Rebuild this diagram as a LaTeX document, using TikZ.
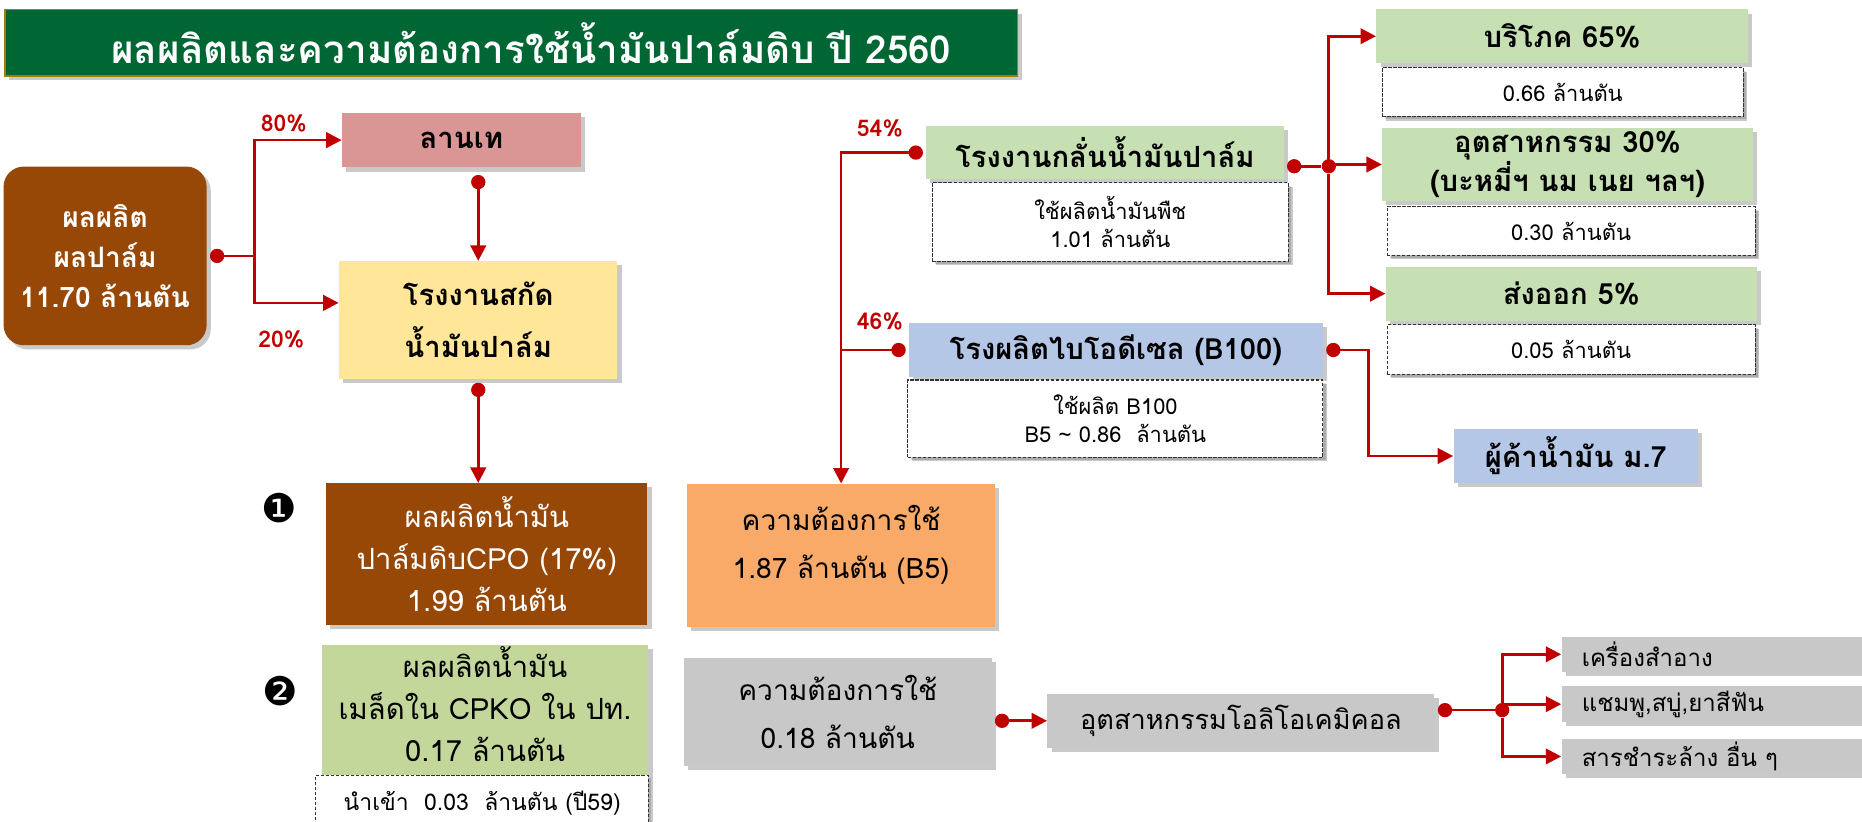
\documentclass[tikz,border=0pt]{standalone}
\usepackage{fontspec}
\setmainfont[Script=Thai]{Loma}
\newfontfamily\dingfont{DejaVu Sans}
\usepackage{xcolor}
\definecolor{ttlgreen}{RGB}{0,102,51}
\definecolor{ttlgold}{RGB}{166,124,0}
\definecolor{palm}{RGB}{151,71,6}
\definecolor{pink}{RGB}{217,150,148}
\definecolor{cream}{RGB}{255,230,153}
\definecolor{leaf}{RGB}{198,224,180}
\definecolor{olive}{RGB}{196,215,155}
\definecolor{peach}{RGB}{249,170,104}
\definecolor{sky}{RGB}{180,199,231}
\definecolor{ash}{RGB}{200,200,200}
\definecolor{flow}{RGB}{192,0,0}
\usepackage{tikz}
\usetikzlibrary{arrows.meta, shadows}
\tikzstyle{box} = [
    rectangle, align=center,
    inner sep=0pt,
    drop shadow={shadow xshift=0.07cm, shadow yshift=-0.07cm, opacity=0.3, fill=black!70},
]
\tikzstyle{bold} = [
    font=\bfseries\fontsize{14}{17}\selectfont,
]
\tikzstyle{plain} = [
    font=\fontsize{14}{20}\selectfont,
]
\tikzstyle{banner} = [
    box,
    minimum width=17.06cm,
    minimum height=1.12cm,
    fill=ttlgreen,
    draw=ttlgold,
    line width=0.8pt,
    text=white,
    font=\bfseries\fontsize{18.5}{22}\selectfont,
]
\tikzstyle{harvest} = [
    box, bold,
    minimum width=3.42cm,
    minimum height=3.01cm,
    rounded corners=0.34cm,
    fill=palm,
    text=white,
    font=\bfseries\fontsize{13.5}{19}\selectfont,
]
\tikzstyle{greenbox} = [
    box, bold,
    fill=leaf,
    minimum height=0.9cm,
]
\tikzstyle{bluebox} = [
    box, bold,
    fill=sky,
    minimum height=0.91cm,
]
\tikzstyle{note} = [
    box,
    fill=white,
    draw=black!80,
    dash pattern=on 1.6pt off 0.8pt,
    line width=0.5pt,
    font=\fontsize{10.5}{13.5}\selectfont,
    drop shadow={shadow xshift=0.05cm, shadow yshift=-0.05cm, opacity=0.15, fill=black},
]
\tikzstyle{greybox} = [
    box, plain,
    fill=ash,
]
\tikzstyle{listbox} = [
    box,
    fill=ash,
    minimum height=0.6cm,
    inner xsep=0.34cm,
    text width=4.82cm,
    align=left,
    font=\fontsize{11.5}{14}\selectfont,
]
\tikzstyle{share} = [
    text=flow,
    font=\bfseries\fontsize{11}{13}\selectfont,
]
\tikzstyle{junction} = [
    circle, fill=flow,
    minimum size=0.24cm,
    inner sep=0pt,
]
\tikzstyle{arrow} = [
    ->, >={Triangle[length=0.26cm, width=0.26cm]},
    draw=flow,
    line width=1.3pt,
]
\tikzstyle{dotline} = [arrow, {Circle[length=0.24cm]}-, shorten <=0.05cm]
\tikzstyle{dotarrow} = [arrow, {Circle[length=0.24cm]}->, shorten <=0.05cm]

\begin{document}
\begin{tikzpicture}[x=0.02cm, y=-0.02cm]
    \clip (0,0) rectangle (1568,692);
    % boxes
    \node (title) at (430.5,36) [banner] {\hspace*{0.68cm}ผลผลิตและความต้องการใช้น้ำมันปาล์มดิบ ปี 2560};
    \node (farm) at (88.5,215.5) [harvest] {ผลผลิต\\ผลปาล์ม\\11.70 ล้านตัน};
    \node (yard) at (388.5,118) [box, bold, fill=pink, minimum width=4.02cm, minimum height=0.92cm] {ลานเท};
    \node (mill) at (402.75,269.5) [box, fill=cream, minimum width=4.69cm, minimum height=1.98cm,
        font=\bfseries\fontsize{14}{25}\selectfont] {โรงงานสกัด\\น้ำมันปาล์ม};
    \node (crude) at (410,466.5) [box, plain, fill=palm, text=white, minimum width=5.41cm, minimum height=2.38cm]
        {ผลผลิตน้ำมัน\\ปาล์มดิบCPO (17\%)\\1.99 ล้านตัน};
    \node (kernel) at (408.5,598) [box, fill=olive, minimum width=5.5cm, minimum height=2.2cm, text depth=0.2cm,
        font=\fontsize{14}{20}\selectfont] {ผลผลิตน้ำมัน\\เมล็ดใน CPKO ใน ปท.\\0.17 ล้านตัน};
    \node (kernelnote) at (406,676) [note, minimum width=5.6cm, minimum height=0.92cm, font=\fontsize{11}{13}\selectfont]
        {นำเข้า~~0.03~~ล้านตัน (ปี59)};
    \node (one) at (235,428) [font=\dingfont\fontsize{19}{19}\selectfont] {❶};
    \node (two) at (236,582) [font=\dingfont\fontsize{19}{19}\selectfont] {❷};

    \node (demand) at (708.3,467.75) [box, fill=peach, minimum width=5.19cm, minimum height=2.41cm, text depth=0.45cm,
        font=\fontsize{13.5}{23}\selectfont] {ความต้องการใช้\\1.87 ล้านตัน (B5)};
    \node (oleodemand) at (705.5,599.5) [greybox, minimum width=5.18cm, minimum height=1.82cm,
        font=\fontsize{13.5}{23}\selectfont] {ความต้องการใช้\\0.18 ล้านตัน};
    \node (oleo) at (1045,607) [greybox, minimum width=6.52cm, minimum height=0.92cm,
        font=\fontsize{13}{15}\selectfont] {อุตสาหกรรมโอลิโอเคมิคอล};
    \node (cosm) at (1452.5,551) [listbox] {เครื่องสำอาง};
    \node (shampoo) at (1452.5,593) [listbox] {แชมพู,สบู่,ยาสีฟัน};
    \node (cleaner) at (1452.5,637) [listbox] {สารชำระล้าง อื่น ๆ};

    \node (refinery) at (930.5,128.5) [greenbox, minimum width=6.02cm] {โรงงานกลั่นน้ำมันปาล์ม};
    \node (refnote) at (935,187) [note, minimum width=6cm, minimum height=1.32cm] {ใช้ผลิตน้ำมันพืช\\1.01 ล้านตัน};
    \node (biodiesel) at (939.75,294.75) [bluebox, minimum width=6.97cm] {โรงผลิตไบโอดีเซล (B100)};
    \node (bionote) at (939.25,352.5) [note, minimum width=6.99cm, minimum height=1.3cm]
        {ใช้ผลิต B100\\B5 \textasciitilde{} 0.86~~ล้านตัน};

    \node (consume) at (1315.5,30.5) [greenbox, minimum width=6.26cm] {บริโภค 65\%};
    \node (connote) at (1316,77.5) [note, minimum width=6.08cm, minimum height=0.82cm] {0.66 ล้านตัน};
    \node (industry) at (1320,138.5) [greenbox, minimum width=6.24cm, minimum height=1.22cm]
        {อุตสาหกรรม 30\%\\(บะหมี่ฯ นม เนย ฯลฯ)};
    \node (indnote) at (1323,194.5) [note, minimum width=6.2cm, minimum height=0.82cm] {0.30 ล้านตัน};
    \node (export) at (1323.25,247.3) [greenbox, minimum width=6.25cm, minimum height=0.91cm] {ส่งออก 5\%};
    \node (expnote) at (1323,294.35) [note, minimum width=6.2cm, minimum height=0.83cm] {0.05 ล้านตัน};
    \node (trader) at (1327,384) [bluebox, minimum width=4.12cm, minimum height=0.92cm] {ผู้ค้าน้ำมัน ม.7};

    % labels
    \node (p80) at (239,104) [share] {80\%};
    \node (p20) at (237,286) [share] {20\%};
    \node (p54) at (741,108) [share] {54\%};
    \node (p46) at (741,271) [share] {46\%};

    % arrows
    \coordinate (fork) at ([xshift=0.8cm]farm.east);
    \draw [dotline] (farm.east) -- (fork);
    \draw [arrow] (fork) |- (yard.west);
    \draw [arrow] (fork) |- (mill.173);
    \draw [dotarrow, shorten <=0.12cm] (mill.north |- yard.south) -- (mill.north);
    \draw [dotarrow, shorten <=0.06cm] (mill.south) -- (mill.south |- crude.north);

    \draw [dotarrow] (refinery.west) -| (demand.north);
    \draw [dotline] (biodiesel.west) -- (biodiesel.west -| demand.north);

    \node (split1) at (1119,140) [junction] {};
    \draw [dotline] (refinery.east |- split1) -- (split1);
    \foreach \dest in {consume, industry, export} {
        \draw [arrow] (split1) |- (\dest.west);
    }

    \coordinate (bend) at ([xshift=0.76cm]biodiesel.east);
    \draw [dotarrow] (biodiesel.east) -- (bend) |- (trader.west);

    \draw [dotarrow] (oleodemand.east |- oleo.west) -- (oleo.west);
    \node (split2) at (1265,598) [junction] {};
    \draw [dotline] (oleo.east |- split2) -- (split2);
    \foreach \dest in {cosm, shampoo, cleaner} {
        \draw [arrow] (split2) |- (\dest.west);
    }
\end{tikzpicture}
\end{document}
